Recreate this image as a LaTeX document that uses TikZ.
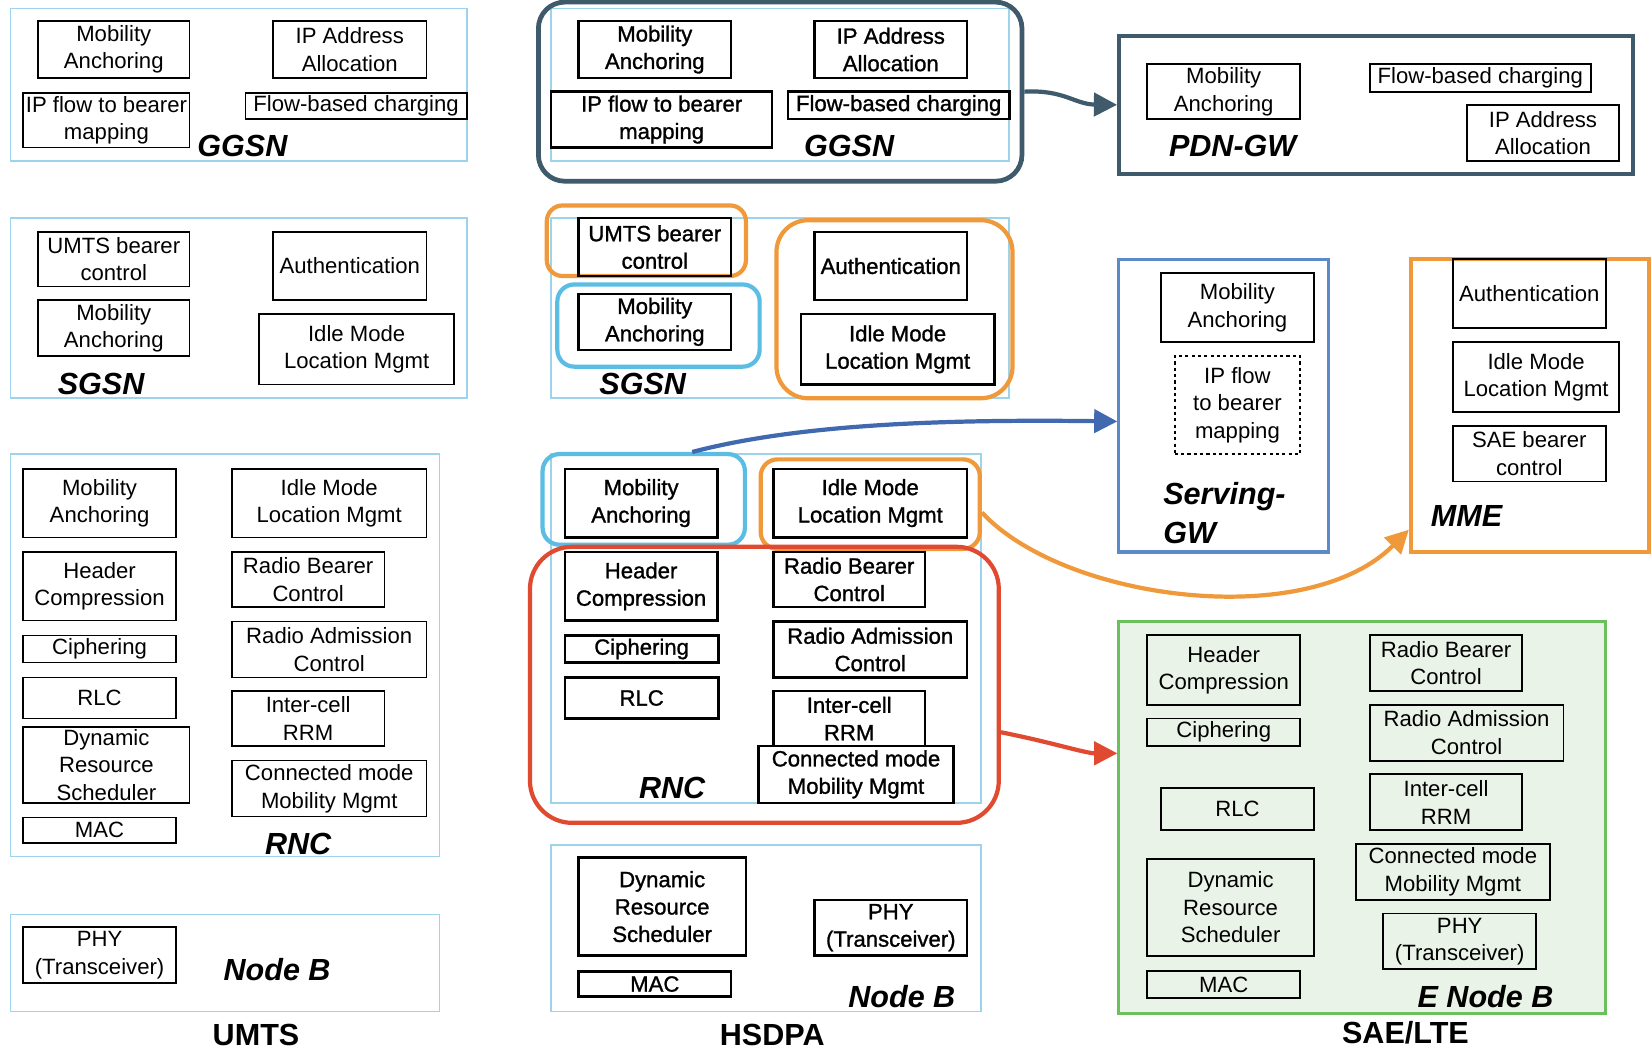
\documentclass[tikz,border=0pt]{standalone}
\usepackage{fontspec}
\setmainfont{Liberation Sans}
\font\midfnt="Liberation Sans:embolden=1.2" at 21pt
\usetikzlibrary{arrows.meta}
\definecolor{lblue}{HTML}{9ED3EC}
\definecolor{dslate}{HTML}{3E5A6B}
\definecolor{hcyan}{HTML}{5BBCE4}
\definecolor{horange}{HTML}{F0993B}
\definecolor{hred}{HTML}{E04A30}
\definecolor{sblue}{HTML}{5A8AC8}
\definecolor{ablue}{HTML}{4169B0}
\definecolor{egreen}{HTML}{6CC05C}
\definecolor{efill}{HTML}{EAF3E7}
\newcommand\blk[7][]{%
  \node[#1, minimum width={(#5)-(#3)}, minimum height={(#6)-(#4)}] (#2) at ({((#3)+(#5))/2},{((#4)+(#6))/2}) {#7};}
\tikzset{
  box/.style={draw=black, line width=1.5pt, inner sep=0pt, align=center, font=\fontsize{21}{26}\selectfont},
  boxm/.style={box, line width=2.3pt, font={\fontsize{21}{26}\selectfont\midfnt}},
  boxr/.style={box, line width=1.8pt},
  cont/.style={draw=lblue, line width=1.6pt, inner sep=0pt},
  hl/.style={line width=4pt, inner sep=0pt},
  ttl/.style={font=\bfseries\itshape\fontsize{29}{37}\selectfont, inner sep=0pt},
  coltitle/.style={font=\bfseries\fontsize{29}{32}\selectfont, inner sep=0pt},
  arr/.style={line width=4pt, -{Triangle[length=22pt,width=22pt]}}
}
\begin{document}
\begin{tikzpicture}[x=1pt,y=-1pt]
\fill[white] (0,0) rectangle (1568,998);
\useasboundingbox (0,0) rectangle (1568,998);

% ---------------- UMTS column ----------------
\blk[cont]{aggsn}{10}{8}{443}{153}{}
\blk[box]{ama1}{36}{20}{180}{74}{Mobility\\Anchoring}
\blk[box]{aip}{259}{20}{405}{74}{IP Address\\Allocation}
\blk[box]{aflow}{22}{88}{180}{140}{IP flow to bearer\\mapping}
\blk[box]{afbc}{233}{88}{443}{113}{Flow-based charging}
\node[ttl] (lagg) at (230,139) {GGSN};

\blk[cont]{asgsn}{10}{207}{443}{378}{}
\blk[box]{aumts}{36}{220}{180}{272}{UMTS bearer\\control}
\blk[box]{ama2}{36}{285}{180}{338}{Mobility\\Anchoring}
\blk[box]{aauth}{259}{220}{405}{285}{Authentication}
\blk[box]{aidle1}{246}{298}{431}{365}{Idle Mode\\Location Mgmt}
\node[ttl] (lasg) at (96,364) {SGSN};

\blk[cont]{arnc}{10}{431}{417}{813}{}
\blk[box]{ama3}{22}{445}{167}{510}{Mobility\\Anchoring}
\blk[box]{aidle2}{220}{445}{405}{510}{Idle Mode\\Location Mgmt}
\blk[box]{ahc}{22}{524}{167}{589}{Header\\Compression}
\blk[box]{arbc}{220}{524}{365}{576}{Radio Bearer\\Control}
\blk[box]{aciph}{22}{603}{167}{629}{Ciphering}
\blk[box]{arac}{220}{590}{405}{643}{Radio Admission\\Control}
\blk[box]{arlc}{22}{643}{167}{682}{RLC}
\blk[box]{airrm}{220}{656}{365}{708}{Inter-cell\\RRM}
\blk[box]{adrs}{22}{690}{180}{762}{Dynamic\\Resource\\Scheduler}
\blk[box]{acmm}{220}{722}{405}{775}{Connected mode\\Mobility Mgmt}
\blk[box]{amac}{22}{776}{167}{800}{MAC}
\node[ttl] (larnc) at (283,801) {RNC};

\blk[cont]{anodeb}{10}{868}{417}{960}{}
\blk[box]{aphy}{22}{880}{167}{933}{PHY\\(Transceiver)}
\node[ttl] (lanb) at (263,920) {Node B};
\node[coltitle] (lumts) at (243,982) {UMTS};

% ---------------- HSDPA column ----------------
\blk[cont]{bggsn}{523}{8}{958}{153}{}
\blk[hl, draw=dslate, line width=4.5pt, rounded corners=25pt]{bhlggsn}{511}{2}{970}{172}{}
\blk[boxm]{bma1}{549}{20}{694}{74}{Mobility\\Anchoring}
\blk[boxm]{bip}{773}{20}{918}{74}{IP Address\\Allocation}
\blk[boxm]{bflow}{523}{87}{733}{140}{IP flow to bearer\\mapping}
\blk[boxm]{bfbc}{748}{87}{958}{113}{Flow-based charging}
\node[ttl] (lbgg) at (806,139) {GGSN};

\blk[cont]{bsgsn}{523}{207}{958}{378}{}
\blk[hl, draw=horange, rounded corners=15pt]{bhlumts}{519}{195}{708}{262}{}
\blk[boxm]{bumts}{549}{207}{694}{262}{UMTS bearer\\control}
\blk[hl, draw=hcyan, rounded corners=16pt]{bhlma2}{529}{270}{721}{348}{}
\blk[boxm]{bma2}{549}{279}{694}{332}{Mobility\\Anchoring}
\blk[hl, draw=horange, rounded corners=30pt]{bhlauth}{737}{209}{961}{378}{}
\blk[boxm]{bauth}{773}{220}{918}{285}{Authentication}
\blk[boxm]{bidle1}{760}{298}{944}{365}{Idle Mode\\Location Mgmt}
\node[ttl] (lbsg) at (610,364) {SGSN};

\blk[cont]{brnc}{523}{431}{931}{762}{}
\blk[hl, draw=hcyan, rounded corners=16pt]{bhlma3}{515}{431}{707}{517}{}
\blk[boxm]{bma3}{536}{445}{681}{510}{Mobility\\Anchoring}
\blk[hl, draw=horange, rounded corners=16pt]{bhlidle}{722}{436}{930}{521}{}
\blk[boxm]{bidle2}{734}{445}{918}{510}{Idle Mode\\Location Mgmt}
\blk[hl, draw=hred, rounded corners=40pt]{bhlred}{503}{519}{948}{781}{}
\blk[boxm]{bhc}{536}{524}{681}{589}{Header\\Compression}
\blk[boxm]{brbc}{734}{524}{878}{576}{Radio Bearer\\Control}
\blk[boxm]{bciph}{536}{603}{682}{629}{Ciphering}
\blk[boxm]{brac}{734}{590}{918}{643}{Radio Admission\\Control}
\blk[boxm]{brlc}{536}{643}{682}{682}{RLC}
\blk[boxm]{birrm}{734}{656}{878}{708}{Inter-cell\\RRM}
\blk[boxm]{bcmm}{720}{708}{905}{762}{Connected mode\\Mobility Mgmt}
\node[ttl] (lbrnc) at (638,748) {RNC};

\blk[cont]{bnodeb}{523}{802}{931}{960}{}
\blk[boxm]{bdrs}{549}{814}{708}{907}{Dynamic\\Resource\\Scheduler}
\blk[boxm]{bmac}{549}{922}{694}{946}{MAC}
\blk[boxm]{bphy}{773}{854}{918}{907}{PHY\\(Transceiver)}
\node[ttl] (lbnb) at (856,946) {Node B};
\node[coltitle] (lhsdpa) at (733,982) {HSDPA};

% ---------------- SAE/LTE column ----------------
\blk[draw=dslate, line width=3.5pt, inner sep=0pt]{cpdn}{1062}{34}{1550}{165}{}
\blk[boxr]{cma1}{1089}{61}{1234}{113}{Mobility\\Anchoring}
\blk[boxr]{cfbc}{1300}{61}{1510}{87}{Flow-based charging}
\blk[boxr]{cip}{1392}{100}{1537}{153}{IP Address\\Allocation}
\node[ttl] (lcpdn) at (1170,139) {PDN-GW};

\blk[draw=sblue, line width=3pt, inner sep=0pt]{csgw}{1062}{246}{1261}{524}{}
\blk[boxr]{cma2}{1102}{259}{1247}{325}{Mobility\\Anchoring}
\blk[boxr, dashed]{cflow}{1115}{338}{1234}{431}{IP flow\\to bearer\\mapping}
\node[ttl, align=left, anchor=north west] (lcsgw) at (1104,458) {Serving-\\GW};

\blk[draw=horange, line width=3.5pt, inner sep=0pt]{cmme}{1339}{246}{1565}{524}{}
\blk[boxr]{cauth}{1379}{246}{1524}{311}{Authentication}
\blk[boxr]{cidle}{1379}{325}{1537}{391}{Idle Mode\\Location Mgmt}
\blk[boxr]{csae}{1379}{404}{1524}{457}{SAE bearer\\control}
\node[ttl] (lcmme) at (1392,490) {MME};

\blk[draw=egreen, fill=efill, line width=3pt, inner sep=0pt]{cenb}{1062}{590}{1524}{962}{}
\blk[boxr]{chc}{1089}{603}{1234}{669}{Header\\Compression}
\blk[boxr]{crbc}{1300}{603}{1445}{656}{Radio Bearer\\Control}
\blk[boxr]{cciph}{1089}{682}{1234}{708}{Ciphering}
\blk[boxr]{crac}{1300}{669}{1484}{722}{Radio Admission\\Control}
\blk[boxr]{crlc}{1102}{748}{1247}{788}{RLC}
\blk[boxr]{cirrm}{1300}{735}{1445}{788}{Inter-cell\\RRM}
\blk[boxr]{ccmm}{1287}{801}{1471}{854}{Connected mode\\Mobility Mgmt}
\blk[boxr]{cdrs}{1089}{815}{1247}{907}{Dynamic\\Resource\\Scheduler}
\blk[boxr]{cphy}{1313}{867}{1458}{920}{PHY\\(Transceiver)}
\blk[boxr]{cmac}{1089}{922}{1234}{947}{MAC}
\node[ttl] (lcenb) at (1410,946) {E Node B};
\node[coltitle] (lsae) at (1334,980) {SAE/LTE};

% ---------------- arrows ----------------
\draw[arr, dslate] (bhlggsn.east) .. controls (1010,85) and (1020,99) .. (cpdn.west);
\draw[arr, ablue] ([xshift=46pt]bhlma3.north) .. controls (760,402) and (900,398) .. ([yshift=-15pt]csgw.west);
\draw[arr, horange] ([yshift=-8pt]bhlidle.east) .. controls (1010,570) and (1240,600) .. ([yshift=23pt]cmme.south west);
\draw[arr, hred] ([yshift=-45pt]bhlred.east) .. controls (1000,705) and (1030,715) .. ([yshift=61pt]cenb.west);
\end{tikzpicture}
\end{document}
